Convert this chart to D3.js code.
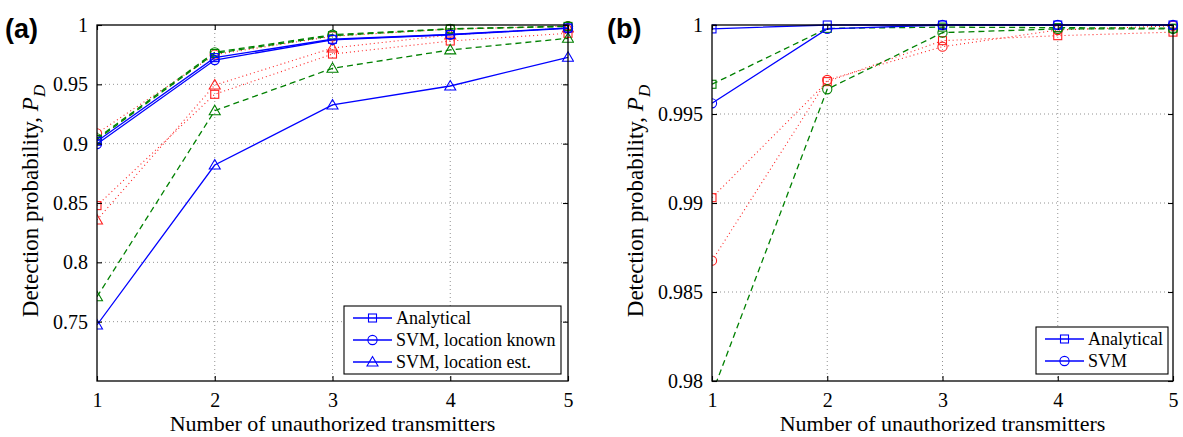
<!DOCTYPE html>
<html>
<head>
<meta charset="utf-8">
<script src="https://cdn.jsdelivr.net/npm/d3@7"></script>
<style>
  body { margin: 0; background: #fff; }
  svg { display: block; }
  text { font-family: "Liberation Serif", "Times New Roman", serif; fill: #000; }
</style>
</head>
<body>
<svg id="chart" width="1183" height="437"></svg>
<script>
// ---------- data ----------
const xValues = [1, 2, 3, 4, 5];

// panel (a)
const aYTicks = [0.75, 0.8, 0.85, 0.9, 0.95, 1];
const aBlueSquare   = [0.902, 0.9725, 0.988, 0.992, 0.9975];
const aBlueCircle   = [0.8997, 0.9705, 0.9875, 0.9918, 0.9972];
const aBlueTri      = [0.7472, 0.882, 0.9326, 0.9486, 0.9728];
const aGreenSquare  = [0.9035, 0.9760, 0.991, 0.9966, 0.9988];
const aGreenCircle  = [0.9045, 0.9770, 0.9918, 0.9968, 0.9990];
const aGreenTri     = [0.771, 0.9278, 0.9635, 0.979, 0.9888];
const aRedSquare    = [0.8478, 0.9416, 0.9755, 0.9865, 0.993];
const aRedCircle    = [0.9087, 0.9750, 0.9905, 0.9966, 0.9990];
const aRedTri       = [0.8357, 0.9494, 0.9806, 0.9916, 0.9975];

// panel (b)
const bYTicks = [0.98, 0.985, 0.99, 0.995, 1];
const bBlueSquare  = [0.99978, 1.0, 1.0, 1.0, 1.0];
const bBlueCircle  = [0.9956, 0.99978, 1.0, 1.0, 1.0];
const bGreenSquare = [0.99667, 0.99981, 0.99988, 0.99985, 0.99982];
const bGreenCircle = [0.97928, 0.99639, 0.99957, 0.99978, 0.99978];
const bRedSquare   = [0.9903, 0.99682, 0.99912, 0.9994, 0.9996];
const bRedCircle   = [0.98676, 0.99691, 0.99878, 0.99972, 0.99995];

const aLegend = ["Analytical", "SVM, location known", "SVM, location est."];
const bLegend = ["Analytical", "SVM"];

// ---------- styles ----------
const SERIF = '"Liberation Serif", "Times New Roman", serif';
const BLUE = "#0000ff", GREEN = "#008000", RED = "#ff2020";
const lineStyle = {
  blue:  { color: BLUE,  dash: null,  width: 1.3 },
  green: { color: GREEN, dash: "6,4", width: 1.3 },
  red:   { color: RED,   dash: "1,3", width: 1.1 }
};

const svg = d3.select("#chart");

function drawMarker(g, type, cx, cy, color) {
  if (type === "square") {
    g.append("rect").attr("x", cx - 4).attr("y", cy - 4).attr("width", 8).attr("height", 8)
      .attr("fill", "none").attr("stroke", color).attr("stroke-width", 1.1);
  } else if (type === "circle") {
    g.append("circle").attr("cx", cx).attr("cy", cy).attr("r", 4.6)
      .attr("fill", "none").attr("stroke", color).attr("stroke-width", 1.1);
  } else {
    g.append("path").attr("d", `M${cx},${cy - 5.5}L${cx + 5.5},${cy + 4}L${cx - 5.5},${cy + 4}Z`)
      .attr("fill", "none").attr("stroke", color).attr("stroke-width", 1.1);
  }
}

function panel(opts) {
  const { id, left, right, top, bottom, yDomain, yTicks, series, legend, label, legendBox } = opts;
  const x = d3.scaleLinear().domain([1, 5]).range([left, right]);
  const y = d3.scaleLinear().domain(yDomain).range([bottom, top]);
  const g = svg.append("g");

  g.append("clipPath").attr("id", "clip-" + id)
    .append("rect").attr("x", left).attr("y", top - 6).attr("width", right - left + 6).attr("height", bottom - top + 6);

  // grid
  g.selectAll(".vgrid").data(xValues.slice(1, -1)).join("line")
    .attr("x1", d => x(d)).attr("x2", d => x(d)).attr("y1", top).attr("y2", bottom)
    .attr("stroke", "#777").attr("stroke-width", 0.8).attr("stroke-dasharray", "1,3");
  g.selectAll(".hgrid").data(yTicks.filter(t => t > yDomain[0] && t < yDomain[1])).join("line")
    .attr("y1", d => y(d)).attr("y2", d => y(d)).attr("x1", left).attr("x2", right)
    .attr("stroke", "#777").attr("stroke-width", 0.8).attr("stroke-dasharray", "1,3");

  // series
  const plot = g.append("g").attr("clip-path", `url(#clip-${id})`);
  series.forEach(s => {
    const st = lineStyle[s.color];
    const line = d3.line().x((d, i) => x(xValues[i])).y(d => y(d));
    plot.append("path").datum(s.values).attr("d", line)
      .attr("fill", "none").attr("stroke", st.color).attr("stroke-width", st.width)
      .attr("stroke-dasharray", st.dash);
    s.values.forEach((v, i) => drawMarker(plot, s.marker, x(xValues[i]), y(v), st.color));
  });

  // box + ticks
  g.append("rect").attr("x", left).attr("y", top).attr("width", right - left).attr("height", bottom - top)
    .attr("fill", "none").attr("stroke", "#000").attr("stroke-width", 1.3);

  const axB = d3.axisBottom(x).tickValues(xValues).tickSizeInner(-5).tickSizeOuter(0).tickPadding(12).tickFormat(d3.format("d"));
  const axT = d3.axisTop(x).tickValues(xValues).tickSizeInner(-5).tickSizeOuter(0).tickFormat("");
  const axL = d3.axisLeft(y).tickValues(yTicks).tickSizeInner(-5).tickSizeOuter(0).tickPadding(9).tickFormat(d3.format("~g"));
  const axR = d3.axisRight(y).tickValues(yTicks).tickSizeInner(-5).tickSizeOuter(0).tickFormat("");
  [[axB, `translate(0,${bottom})`], [axT, `translate(0,${top})`],
   [axL, `translate(${left},0)`], [axR, `translate(${right},0)`]].forEach(([ax, tr]) => {
    const a = g.append("g").attr("transform", tr).call(ax).attr("font-family", SERIF).attr("font-size", 20);
    a.select(".domain").remove();
    a.selectAll("line").attr("stroke", "#000").attr("stroke-width", 1.1);
    a.selectAll("text").style("font-family", SERIF).style("font-size", "20px").attr("fill", "#000");
  });

  // titles
  g.append("text").attr("x", (left + right) / 2).attr("y", bottom + 50).attr("text-anchor", "middle")
    .style("font-family", SERIF).style("font-size", "22px").text("Number of unauthorized transmitters");

  const yt = g.append("text").attr("transform", `translate(${opts.yTitleX},${(top + bottom) / 2 - 2}) rotate(-90)`)
    .attr("text-anchor", "middle").style("font-family", SERIF).style("font-size", "23px");
  yt.append("tspan").text("Detection probability, ");
  yt.append("tspan").style("font-style", "italic").text("P");
  yt.append("tspan").style("font-style", "italic").style("font-size", "17px").attr("dy", 7).text("D");

  g.append("text").attr("x", opts.labelX).attr("y", 38)
    .style("font-family", '"Liberation Sans", Arial, sans-serif').style("font-weight", "bold").style("font-size", "27px")
    .text(label);

  // legend
  const lb = legendBox;
  g.append("rect").attr("x", lb.x).attr("y", lb.y).attr("width", lb.w).attr("height", lb.h)
    .attr("fill", "#fff").attr("stroke", "#000").attr("stroke-width", 1.1);
  const markers = ["square", "circle", "triangle"];
  legend.forEach((name, i) => {
    const cy = lb.y + 12 + i * 22;
    g.append("line").attr("x1", lb.x + 9).attr("x2", lb.x + 48).attr("y1", cy).attr("y2", cy)
      .attr("stroke", BLUE).attr("stroke-width", 1.3);
    drawMarker(g, markers[i], lb.x + 28.5, cy, BLUE);
    g.append("text").attr("x", lb.x + 52).attr("y", cy + 6)
      .style("font-family", SERIF).style("font-size", "18px").text(name);
  });
}

panel({
  id: "a", left: 97, right: 568, top: 25, bottom: 381, yDomain: [0.7, 1], yTicks: aYTicks,
  label: "(a)", labelX: 5, yTitleX: 38,
  legend: aLegend, legendBox: { x: 344, y: 306, w: 217, h: 68 },
  series: [
    { color: "red", marker: "square", values: aRedSquare },
    { color: "red", marker: "circle", values: aRedCircle },
    { color: "red", marker: "triangle", values: aRedTri },
    { color: "green", marker: "square", values: aGreenSquare },
    { color: "green", marker: "circle", values: aGreenCircle },
    { color: "green", marker: "triangle", values: aGreenTri },
    { color: "blue", marker: "square", values: aBlueSquare },
    { color: "blue", marker: "circle", values: aBlueCircle },
    { color: "blue", marker: "triangle", values: aBlueTri }
  ]
});

panel({
  id: "b", left: 712, right: 1173, top: 25, bottom: 381, yDomain: [0.98, 1], yTicks: bYTicks,
  label: "(b)", labelX: 607, yTitleX: 643,
  legend: bLegend, legendBox: { x: 1036, y: 327, w: 132, h: 47 },
  series: [
    { color: "red", marker: "square", values: bRedSquare },
    { color: "red", marker: "circle", values: bRedCircle },
    { color: "green", marker: "square", values: bGreenSquare },
    { color: "green", marker: "circle", values: bGreenCircle },
    { color: "blue", marker: "square", values: bBlueSquare },
    { color: "blue", marker: "circle", values: bBlueCircle }
  ]
});
</script>
</body>
</html>
